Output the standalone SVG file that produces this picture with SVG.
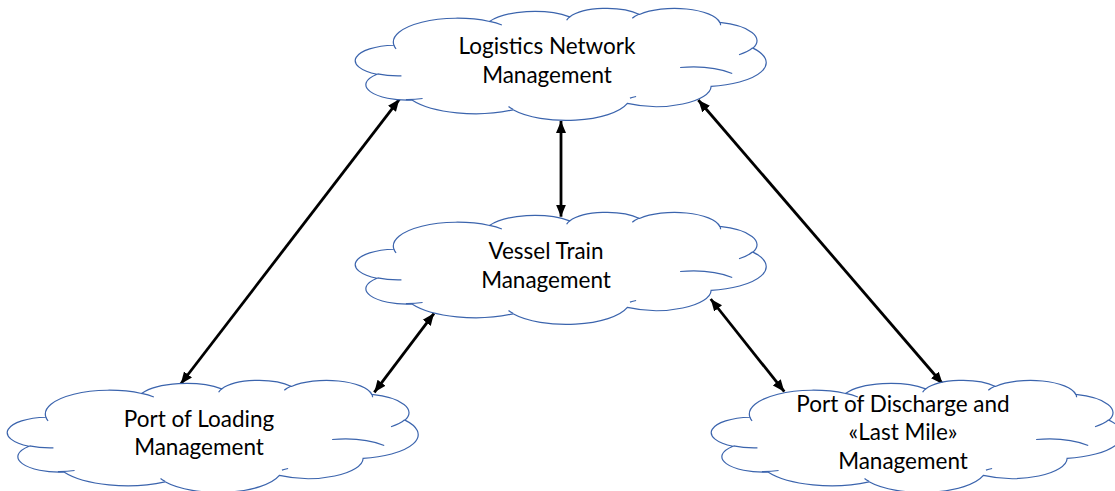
<svg xmlns="http://www.w3.org/2000/svg" xmlns:xlink="http://www.w3.org/1999/xlink" width="1115" height="491" viewBox="0 0 1115 491">
  <style>
    .outline { fill: #ffffff; stroke: #3b64ad; stroke-width: 1.2; vector-effect: non-scaling-stroke; }
    .crease { fill: none; stroke: #3b64ad; stroke-width: 1.2; vector-effect: non-scaling-stroke; }
    .label { font-family: Lato, "Open Sans", "Liberation Sans", sans-serif; font-size: 22.5px; fill: #000000; text-anchor: middle; }
    .link { stroke: #000000; stroke-width: 2.8; fill: none; marker-start: url(#head); marker-end: url(#head); }
  </style>
  <defs>
    <!-- cloud shape in a 43200 x 43200 unit box -->
    <g id="cloud">
      <path class="outline" d="M3900,14370 A6753,9190 0 0 1 14006,5203 A5333,7267 0 0 1 22457,3433 A4365,5945 0 0 1 29835,2484 A4857,6595 0 0 1 38320,5580 A5333,7273 0 0 1 41820,15464 A6775,9220 0 0 1 37405,30206 A5785,7867 0 0 1 28558,36817 A6752,9215 0 0 1 16482,39267 A7720,10543 0 0 1 5805,35472 A4360,5918 0 0 1 2115,25550 A4345,5945 0 0 1 3900,14370 Z"/>
      <path class="crease" d="M4693,26177 A4345,5945 0 0 1 2160,25380 M6928,34899 A4360,5918 0 0 1 5164,35317 M16478,39090 A6752,9215 0 0 1 16006,37963 M28827,34751 A6752,9215 0 0 1 29481,34140 M34129,22954 A5785,7867 0 0 1 39633,25263 M41798,15354 A5333,7273 0 0 1 40350,18030 M38324,5426 A4857,6595 0 0 1 38400,6690 M29078,3952 A4857,6595 0 0 1 29820,2339 M22141,4720 A4365,5945 0 0 1 22500,3330 M14000,5192 A6753,9190 0 0 1 15301,6542 M4127,15789 A6753,9190 0 0 1 3900,14370"/>
    </g>
    <marker id="head" markerUnits="userSpaceOnUse" markerWidth="13" markerHeight="11" viewBox="0 0 13 11" refX="12" refY="5.5" orient="auto-start-reverse">
      <path d="M0,0.5 L12,5.5 L0,10.5 Z" fill="#000000"/>
    </marker>
  </defs>

  <g id="connectors">
    <line class="link" x1="180.7" y1="384" x2="399.3" y2="99.3"/>
    <line class="link" x1="561" y1="121" x2="561" y2="216.7"/>
    <line class="link" x1="434" y1="313.3" x2="374.3" y2="392.3"/>
    <line class="link" x1="710.7" y1="299" x2="784.3" y2="391.7"/>
    <line class="link" x1="698.3" y1="100" x2="942.7" y2="384"/>
  </g>

  <g id="logistics-network">
    <use xlink:href="#cloud" transform="translate(357,8) scale(0.0094676,0.0025926)"/>
    <text class="label" x="547" y="54">Logistics Network</text>
    <text class="label" x="547" y="83">Management</text>
  </g>

  <g id="vessel-train">
    <use xlink:href="#cloud" transform="translate(357,212) scale(0.0094676,0.0025926)"/>
    <text class="label" x="546" y="259">Vessel Train</text>
    <text class="label" x="546" y="288">Management</text>
  </g>

  <g id="port-of-loading">
    <use xlink:href="#cloud" transform="translate(9,380) scale(0.0094676,0.0025926)"/>
    <text class="label" x="199" y="427">Port of Loading</text>
    <text class="label" x="199" y="455">Management</text>
  </g>

  <g id="port-of-discharge">
    <use xlink:href="#cloud" transform="translate(713,380) scale(0.0094676,0.0025926)"/>
    <text class="label" x="903" y="412">Port of Discharge and</text>
    <text class="label" x="903" y="440">«Last Mile»</text>
    <text class="label" x="903" y="469">Management</text>
  </g>
</svg>
